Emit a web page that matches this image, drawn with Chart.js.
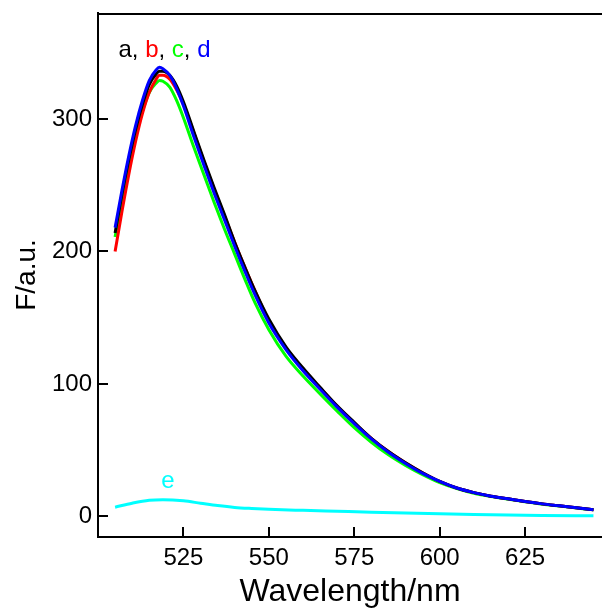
<!DOCTYPE html>
<html>
<head>
<meta charset="utf-8">
<script src="https://cdn.jsdelivr.net/npm/chart.js@4"></script>
<style>
  html, body { margin: 0; padding: 0; background: #fff; }
  canvas { display: block; }
</style>
</head>
<body>
<canvas id="spectra" width="602" height="610"></canvas>
<script>
"use strict"

// wavelengths for curves a-d (nm)
const wavelengths = [505, 507, 509, 511, 513, 515, 517, 518, 519, 521, 523, 525, 528, 531, 534, 537, 540, 543, 546, 550,
    555, 560, 565, 570, 575, 580, 585, 590, 595, 600, 605, 610, 615, 620, 625, 630, 635, 640, 645];

const curveA = [214, 243, 269, 292, 311, 326, 334, 336, 336, 333, 325, 313, 291, 269, 248, 228, 207, 188, 170, 149,
    128, 112, 97.5, 83.5, 71, 59, 49, 40.5, 33, 26.5, 21.5, 18, 15.3, 13.3, 11.3, 9.5, 8, 6.5, 5];
const curveB = [200, 230, 258, 283, 304, 320, 330, 333, 333, 330, 322, 311, 290, 268, 247, 227, 207, 188, 170, 148,
    127.5, 111.5, 97, 83, 70.5, 59, 49, 40.5, 33, 26.5, 21.5, 18, 15.3, 13.3, 11.3, 9.5, 8, 6.5, 5];
const curveC = [211, 240, 266, 288, 306, 320, 327, 329, 328.5, 324, 314, 301, 279, 258, 237, 217, 198, 179, 161, 141,
    121, 106, 92.5, 79.5, 67, 56, 46.5, 38.5, 31.5, 25.5, 21, 17.5, 15, 13, 11, 9.3, 7.8, 6.4, 5];
const curveD = [218, 246, 272, 295, 314, 329, 337, 339, 338, 333, 323, 310, 287, 265, 244, 224, 204, 185, 167, 146,
    126, 110, 96, 82.5, 70, 58.5, 48.5, 40, 32.5, 26.5, 21.5, 18, 15.3, 13.3, 11.3, 9.5, 8, 6.5, 5];

// blank curve e
const wavelengthsE = [505, 510, 515, 519, 525, 530, 535, 540, 545, 550, 560, 570, 580, 590, 600, 610, 620, 630, 645];
const curveE = [7, 10, 12.2, 12.6, 11.8, 10, 8.2, 6.8, 6, 5.4, 4.6, 3.9, 3.2, 2.6, 2, 1.5, 1.1, 0.8, 0.5];

const xTickValues = [525, 550, 575, 600, 625];
const yTickValues = [0, 100, 200, 300];

const FONT = '"Liberation Sans", Arial, sans-serif';

function toPoints(xs, ys) {
    return xs.map((x, i) => ({ x: x, y: ys[i] }));
}

function makeSet(label, xs, ys, color) {
    return {
        label: label,
        data: toPoints(xs, ys),
        borderColor: color,
        borderWidth: 3,
        pointRadius: 0,
        fill: false,
        cubicInterpolationMode: 'monotone'
    };
}

// inward ticks, top frame line and the curve letters
const decorations = {
    id: 'decorations',
    afterDraw(chart) {
        const ctx = chart.ctx;
        const area = chart.chartArea;
        const xs = chart.scales.x;
        const ys = chart.scales.y;
        ctx.save();
        ctx.strokeStyle = '#000';
        ctx.lineWidth = 2;
        ctx.beginPath();
        ctx.moveTo(area.left, area.top + 1);
        ctx.lineTo(area.right, area.top + 1);
        xTickValues.forEach(v => {
            const px = Math.round(xs.getPixelForValue(v));
            ctx.moveTo(px, area.bottom);
            ctx.lineTo(px, area.bottom - 10);
        });
        yTickValues.forEach(v => {
            const py = Math.round(ys.getPixelForValue(v));
            ctx.moveTo(area.left, py);
            ctx.lineTo(area.left + 10, py);
        });
        ctx.stroke();

        ctx.font = '24px ' + FONT;
        ctx.textBaseline = 'alphabetic';
        ctx.textAlign = 'left';
        const parts = [['a', '#000'], [', ', '#000'], ['b', '#ff0000'], [', ', '#000'],
            ['c', '#00ff00'], [', ', '#000'], ['d', '#0000ff']];
        let tx = xs.getPixelForValue(506);
        const ty = ys.getPixelForValue(347);
        parts.forEach(([t, c]) => {
            ctx.fillStyle = c;
            ctx.fillText(t, tx, ty);
            tx += ctx.measureText(t).width;
        });
        ctx.fillStyle = '#00ffff';
        ctx.textAlign = 'center';
        ctx.fillText('e', xs.getPixelForValue(520.5), ys.getPixelForValue(21.6));
        ctx.restore();
    }
};

const ctx = document.getElementById('spectra').getContext('2d');
new Chart(ctx, {
    type: 'line',
    data: {
        datasets: [
            makeSet('d', wavelengths, curveD, '#0000ff'),
            makeSet('a', wavelengths, curveA, '#000000'),
            makeSet('b', wavelengths, curveB, '#ff0000'),
            makeSet('c', wavelengths, curveC, '#00ff00'),
            makeSet('e', wavelengthsE, curveE, '#00ffff')
        ]
    },
    options: {
        responsive: false,
        animation: false,
        layout: { padding: { top: 13, right: 0, bottom: 0, left: 0 } },
        plugins: {
            legend: { display: false },
            tooltip: { enabled: false }
        },
        scales: {
            x: {
                type: 'linear',
                min: 500,
                max: 647.5,
                afterBuildTicks: s => { s.ticks = xTickValues.map(v => ({ value: v })); },
                afterFit: s => { s.height = 73; s.paddingLeft = 0; s.paddingRight = 0; },
                grid: { display: false, drawTicks: false },
                border: { display: true, color: '#000', width: 2 },
                ticks: {
                    color: '#000',
                    padding: 7,
                    maxRotation: 0,
                    font: { family: FONT, size: 24 }
                },
                title: {
                    display: true,
                    text: 'Wavelength/nm',
                    color: '#000',
                    padding: { top: 0, bottom: 2 },
                    font: { family: FONT, size: 32, lineHeight: 1 }
                }
            },
            y: {
                min: -15.5,
                max: 380,
                afterBuildTicks: s => { s.ticks = yTickValues.map(v => ({ value: v })); },
                afterFit: s => { s.width = 98; s.paddingTop = 0; s.paddingBottom = 0; },
                grid: { display: false, drawTicks: false },
                border: { display: true, color: '#000', width: 2 },
                ticks: {
                    color: '#000',
                    padding: 6,
                    font: { family: FONT, size: 24 }
                },
                title: {
                    display: true,
                    text: 'F/a.u.',
                    color: '#000',
                    padding: { top: 13, bottom: 0 },
                    font: { family: FONT, size: 28, lineHeight: 1 }
                }
            }
        }
    },
    plugins: [decorations]
});
</script>
</body>
</html>
